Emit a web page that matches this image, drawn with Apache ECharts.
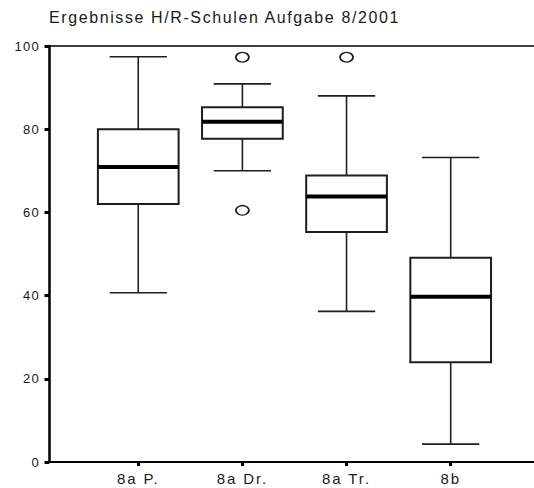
<!DOCTYPE html>
<html>
<head>
<meta charset="utf-8">
<script src="https://cdn.jsdelivr.net/npm/echarts@6/dist/echarts.min.js"></script>
<style>
  html, body { margin: 0; padding: 0; background: #fff; }
  #chart { width: 534px; height: 488px; }
  #chart text[style*="16px"] { letter-spacing: 1.6px; }
  #chart text[style*="13px"] { letter-spacing: 1.3px; }
  #chart text[style*="15px"] { letter-spacing: 1.9px; }
</style>
</head>
<body>
<div id="chart"></div>
<script>
// ---- data ----
const titleText = 'Ergebnisse H/R-Schulen Aufgabe 8/2001';
const categories = ['8a P.', '8a Dr.', '8a Tr.', '8b'];
const categoryPos = [1, 2, 3, 4];
const lowWhisker  = [40.7, 70.0, 36.2, 4.3];
const q1          = [62.0, 77.7, 55.3, 24.0];
const median      = [70.9, 81.8, 63.8, 39.7];
const q3          = [80.0, 85.3, 68.9, 49.1];
const highWhisker = [97.4, 90.9, 88.0, 73.2];
const outlierCat  = [2, 2, 3];
const outlierVal  = [97.3, 60.5, 97.3];
const yTicks      = [0, 20, 40, 60, 80, 100];

// ---- build ----
const boxData = categoryPos.map((p, i) => [p, lowWhisker[i], q1[i], median[i], q3[i], highWhisker[i]]);
const outlierData = outlierCat.map((c, i) => [c, outlierVal[i]]);

const BOX_RATIO = 0.775;
const CAP_RATIO = 0.55;
const LINE = '#1e1e1e';

function renderItem(params, api) {
  const x = api.value(0);
  const pLow = api.coord([x, api.value(1)]);
  const pQ1 = api.coord([x, api.value(2)]);
  const pMed = api.coord([x, api.value(3)]);
  const pQ3 = api.coord([x, api.value(4)]);
  const pHigh = api.coord([x, api.value(5)]);
  const unit = api.size([1, 0])[0];
  const bw = unit * BOX_RATIO, cw = unit * CAP_RATIO;
  const cx = pMed[0];
  const st = () => ({ stroke: LINE, lineWidth: 1.6 });
  return {
    type: 'group',
    children: [
      { type: 'line', shape: { x1: cx, y1: pHigh[1], x2: cx, y2: pQ3[1] }, style: st() },
      { type: 'line', shape: { x1: cx, y1: pQ1[1], x2: cx, y2: pLow[1] }, style: st() },
      { type: 'line', shape: { x1: cx - cw / 2, y1: pHigh[1], x2: cx + cw / 2, y2: pHigh[1] }, style: st() },
      { type: 'line', shape: { x1: cx - cw / 2, y1: pLow[1], x2: cx + cw / 2, y2: pLow[1] }, style: st() },
      { type: 'rect', shape: { x: cx - bw / 2, y: pQ3[1], width: bw, height: pQ1[1] - pQ3[1] },
        style: { fill: '#fff', stroke: LINE, lineWidth: 2 } },
      { type: 'line', shape: { x1: cx - bw / 2, y1: pMed[1], x2: cx + bw / 2, y2: pMed[1] },
        style: { stroke: '#000', lineWidth: 4 } }
    ]
  };
}

const FONT = '"Liberation Sans", Arial, sans-serif';
const X_MIN = 0.143, X_MAX = 4.8;

const chart = echarts.init(document.getElementById('chart'), null, { renderer: 'svg' });
chart.setOption({
  animation: false,
  backgroundColor: '#fff',
  title: {
    text: titleText,
    left: 49, top: 9, padding: 0,
    textStyle: { fontFamily: FONT, fontSize: 16, fontWeight: 'normal', color: '#1a1a1a' }
  },
  grid: { left: 49, right: 0, top: 46, bottom: 26, containLabel: false },
  xAxis: [
    {
      type: 'value', min: X_MIN, max: X_MAX, position: 'bottom',
      axisLine: { show: true, onZero: false, lineStyle: { color: '#000', width: 2 } },
      axisTick: { show: true, inside: false, customValues: categoryPos, length: 4, lineStyle: { color: '#000', width: 3 } },
      axisLabel: {
        show: true, customValues: categoryPos, margin: 9,
        formatter: v => categories[categoryPos.indexOf(v)],
        fontFamily: FONT, fontSize: 15, color: '#1a1a1a'
      },
      splitLine: { show: false }
    },
    {
      type: 'value', min: X_MIN, max: X_MAX, position: 'top',
      axisLine: { show: true, onZero: false, lineStyle: { color: '#000', width: 1.6 } },
      axisTick: { show: false }, axisLabel: { show: false }, splitLine: { show: false }
    }
  ],
  yAxis: {
    type: 'value', min: yTicks[0], max: yTicks[yTicks.length - 1], interval: 20,
    axisLine: { show: true, onZero: false, lineStyle: { color: '#000', width: 2.5 } },
    axisTick: { show: true, inside: false, length: 4.5, lineStyle: { color: '#000', width: 3 } },
    axisLabel: { margin: 9, fontFamily: FONT, fontSize: 13, color: '#1a1a1a' },
    splitLine: { show: false }
  },
  series: [
    {
      type: 'custom', name: 'box', xAxisIndex: 0, yAxisIndex: 0,
      renderItem: renderItem,
      encode: { x: 0, y: [1, 2, 3, 4, 5] },
      data: boxData
    },
    {
      type: 'scatter', name: 'outliers', xAxisIndex: 0, yAxisIndex: 0,
      symbol: 'circle', symbolSize: [13, 9.5],
      itemStyle: { color: '#fff', borderColor: LINE, borderWidth: 1.5, opacity: 1 },
      data: outlierData
    }
  ]
});
</script>
</body>
</html>
